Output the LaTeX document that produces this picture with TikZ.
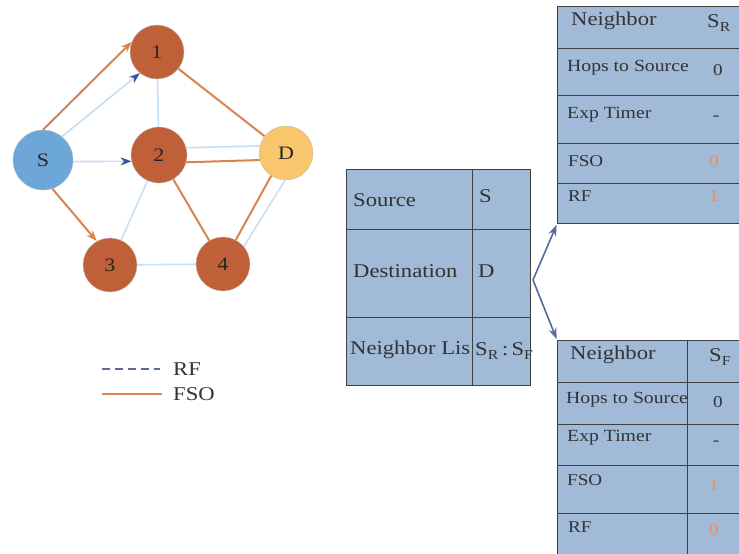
\documentclass[tikz,border=0pt]{standalone}
\usepackage{fontspec}
\setmainfont{Liberation Serif}[FakeStretch=1.16]
\usetikzlibrary{arrows.meta}

\definecolor{hostorange}{HTML}{BF6038}
\definecolor{srcblue}{HTML}{6DA6D8}
\definecolor{dstgold}{HTML}{F9C66E}
\definecolor{fsoline}{HTML}{D9834F}
\definecolor{rfline}{HTML}{C8DEF1}
\definecolor{rftip}{HTML}{34559A}
\definecolor{cellblue}{HTML}{A0BAD8}
\definecolor{valorange}{HTML}{E8905A}
\definecolor{linkgray}{HTML}{5A6A9E}

\tikzset{
  host/.style={circle,draw=black!25,fill=hostorange,minimum size=54pt,inner sep=0pt,
    font=\fontsize{19}{19}\selectfont,text=black!85},
  fso/.style={draw=fsoline,line width=2pt},
  rf/.style={draw=rfline,line width=1.6pt},
  cell/.style={draw=black!75,fill=cellblue,line width=1pt,inner sep=0pt,anchor=north west},
  big/.style={font=\fontsize{19.5}{20}\selectfont,text=black!80,inner sep=0pt},
  small/.style={font=\fontsize{17}{17}\selectfont,text=black!80,inner sep=0pt},
  tiny/.style={font=\fontsize{16.5}{16}\selectfont,text=black!80,inner sep=0pt},
  val/.style={font=\fontsize{16.5}{16}\selectfont,text=valorange,inner sep=0pt},
  link/.style={draw=linkgray,line width=1.6pt,-{Stealth[length=11pt,width=8pt]}},
}

\begin{document}
\begin{tikzpicture}[x=1pt,y=-1pt]
  \useasboundingbox (0,0) rectangle (739,554);
  \clip (0,0) rectangle (739,554);

  % network
  \node[host,fill=srcblue,minimum size=60pt] (S) at (43,160) {S};
  \node[host] (n1) at (157,52) {1};
  \node[host,minimum size=56pt] (n2) at (159,155) {2};
  \node[host,fill=dstgold] (D) at (286,153) {D};
  \node[host] (n3) at (110,265) {3};
  \node[host] (n4) at (223,264) {4};

  \draw[fso,-{Stealth[length=11pt,width=8pt]}] (S.90) -- (n1.158);
  \draw[rf,-{Stealth[length=11pt,width=8pt,color=rftip]}] (S.51) -- (n1.231);
  \draw[rf,-{Stealth[length=11pt,width=8pt,color=rftip]}] (S.-3) -- (n2.193);
  \draw[fso,-{Stealth[length=11pt,width=8pt]}] (S.-72) -- (n3.119);
  \draw[rf] (n1) -- (n2);
  \draw[fso] (n1) -- (D);
  \draw[rf] (n2.15) -- (D.165);
  \draw[fso] (n2.-15) -- (D.195);
  \draw[rf] (n2) -- (n3);
  \draw[fso] (n2) -- (n4);
  \draw[rf] (n3) -- (n4);
  \draw[fso] (D.237) -- (n4.62);
  \draw[rf] (D.268) -- (n4.40);

  % legend
  \coordinate (rfa) at (102,369);
  \coordinate (rfb) at (160,369);
  \node[big,anchor=west] (rfkey) at (173,369) {RF};
  \draw[draw=linkgray,line width=1.6pt,dash pattern=on 8pt off 5pt] (rfa) -- (rfb);
  \coordinate (fsoa) at (102,394);
  \coordinate (fsob) at (162,394);
  \node[big,anchor=west] (fsokey) at (173,394) {FSO};
  \draw[fso] (fsoa) -- (fsob);

  % packet table
  \node[cell,minimum width=126,minimum height=60] (srcL) at (346,169) {};
  \node[cell,minimum width=58,minimum height=60] (srcR) at (472,169) {};
  \node[cell,minimum width=126,minimum height=88] (dstL) at (346,229) {};
  \node[cell,minimum width=58,minimum height=88] (dstR) at (472,229) {};
  \node[cell,minimum width=126,minimum height=68] (lstL) at (346,317) {};
  \node[cell,minimum width=58,minimum height=68] (lstR) at (472,317) {};
  \node[big,anchor=west] at (353,200) {Source};
  \node[big,anchor=west] at (479,196) {S};
  \node[big,anchor=west] at (353,271) {Destination};
  \node[big,anchor=west] at (478,271) {D};
  \node[big,anchor=west] at (350,350) {Neighbor Lis};
  \node[big,anchor=west] at (475,351) {S\textsubscript{R}\,:\,S\textsubscript{F}};

  % neighbor S_R
  \node[cell,minimum width=203,minimum height=42] (rR1) at (557,6) {};
  \node[cell,minimum width=203,minimum height=47] (rR2) at (557,48) {};
  \node[cell,minimum width=203,minimum height=48] (rR3) at (557,95) {};
  \node[cell,minimum width=203,minimum height=40] (rR4) at (557,143) {};
  \node[cell,minimum width=203,minimum height=40] (rR5) at (557,183) {};
  \node[big,anchor=west] at (571,21) {Neighbor};
  \node[big,anchor=west] at (707,23) {S\textsubscript{R}};
  \node[small,anchor=west] at (567,68) {Hops to Source};
  \node[tiny] at (718,70) {0};
  \node[small,anchor=west] at (567,115) {Exp Timer};
  \node[tiny] at (716,118) {-};
  \node[tiny,anchor=west] at (568,161) {FSO};
  \node[val] at (714,161) {0};
  \node[tiny,anchor=west] at (568,196) {RF};
  \node[val] at (714,196) {1};

  % neighbor S_F
  \node[cell,minimum width=130,minimum height=42] (fN1) at (557,340) {};
  \node[cell,minimum width=73,minimum height=42] at (687,340) {};
  \node[cell,minimum width=130,minimum height=42] at (557,382) {};
  \node[cell,minimum width=73,minimum height=42] at (687,382) {};
  \node[cell,minimum width=130,minimum height=41] at (557,424) {};
  \node[cell,minimum width=73,minimum height=41] at (687,424) {};
  \node[cell,minimum width=130,minimum height=48] at (557,465) {};
  \node[cell,minimum width=73,minimum height=48] at (687,465) {};
  \node[cell,minimum width=130,minimum height=52] at (557,513) {};
  \node[cell,minimum width=73,minimum height=52] at (687,513) {};
  \node[big,anchor=west] at (570,355) {Neighbor};
  \node[big,anchor=west] at (709,357) {S\textsubscript{F}};
  \node[small,anchor=west] at (566,400) {Hops to Source};
  \node[tiny] at (718,402) {0};
  \node[small,anchor=west] at (567,438) {Exp Timer};
  \node[tiny] at (716,443) {-};
  \node[tiny,anchor=west] at (567,480) {FSO};
  \node[val] at (714,485) {1};
  \node[tiny,anchor=west] at (568,527) {RF};
  \node[val] at (714,530) {0};

  % links to neighbor entries
  \coordinate (fork) at (533,280);
  \draw[link,shorten >=1pt] (fork) -- (rR5.south west);
  \draw[link,shorten >=1pt] (fork) -- (fN1.north west);
\end{tikzpicture}
\end{document}
